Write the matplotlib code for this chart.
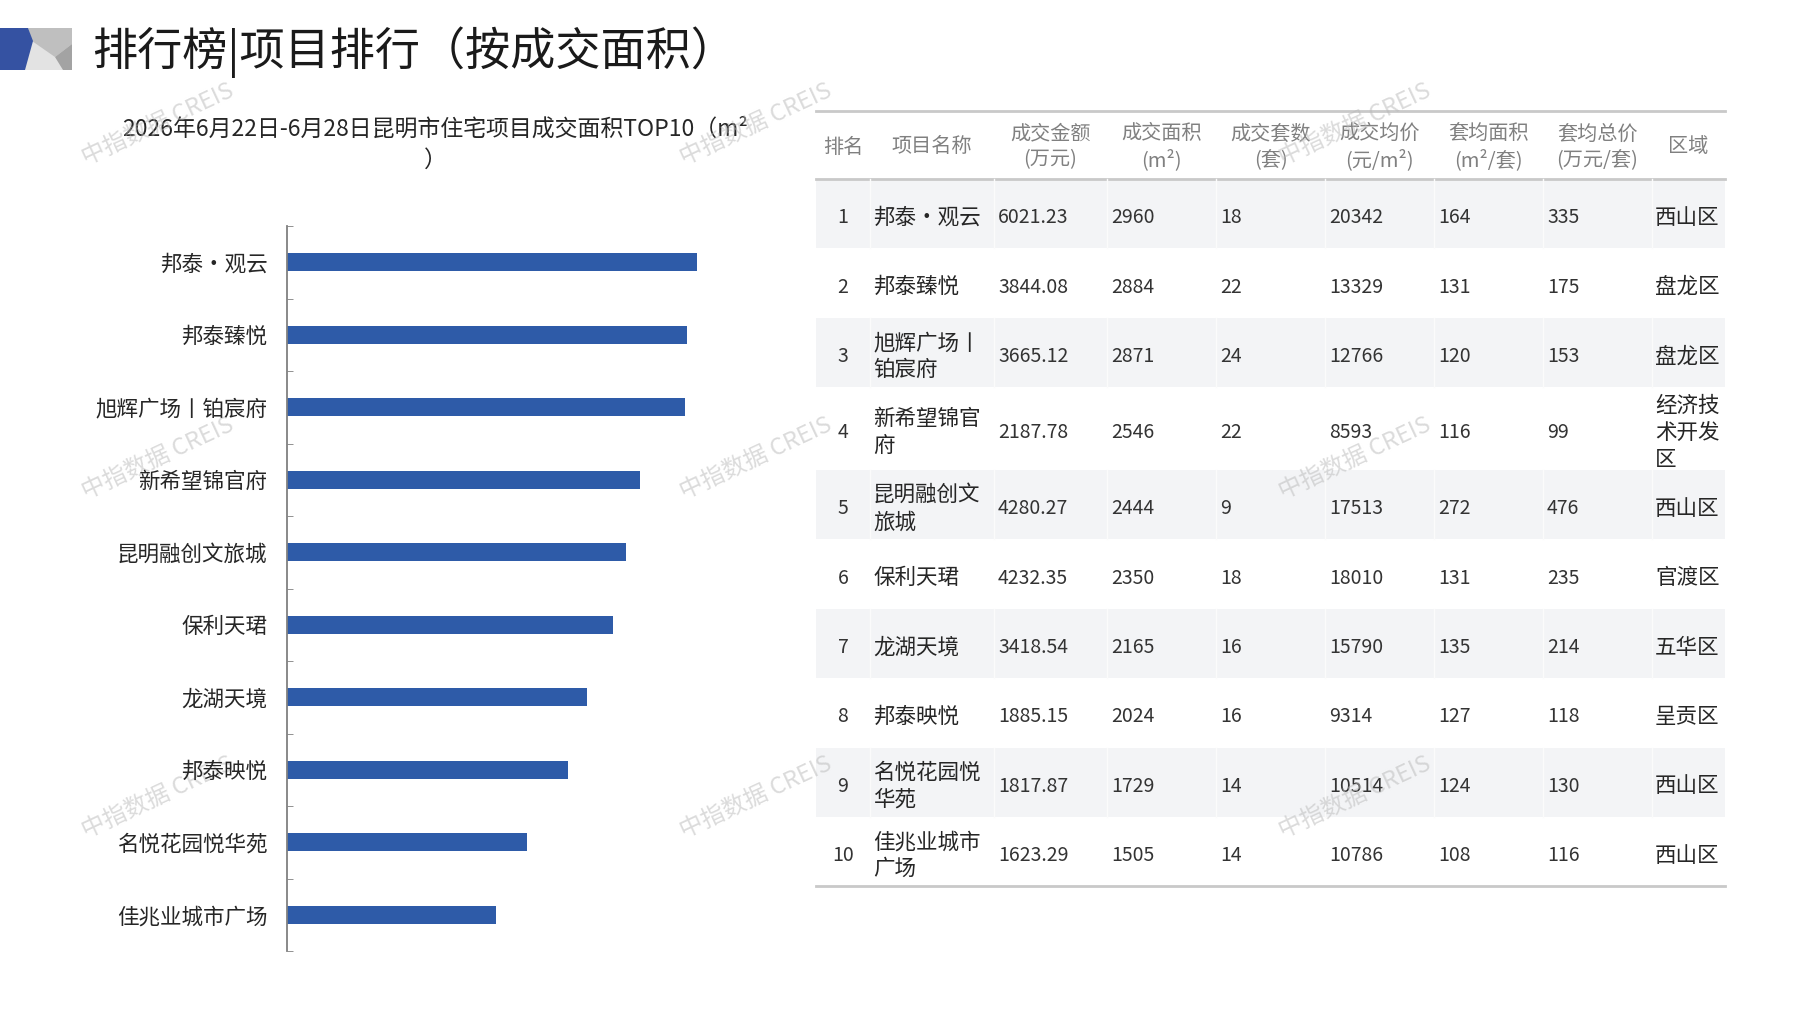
import matplotlib.pyplot as plt
import matplotlib.patches as patches
import numpy as np

plt.rcParams['font.family'] = ['Noto Sans CJK SC', 'DejaVu Sans']

# datos de la tabla / grafico
ranks = [1, 2, 3, 4, 5, 6, 7, 8, 9, 10]
names = ['邦泰•观云', '邦泰臻悦', '旭辉广场丨铂宸府', '新希望锦官府', '昆明融创文旅城',
         '保利天珺', '龙湖天境', '邦泰映悦', '名悦花园悦华苑', '佳兆业城市广场']
amounts = [6021.23, 3844.08, 3665.12, 2187.78, 4280.27, 4232.35, 3418.54, 1885.15, 1817.87, 1623.29]
areas = [2960, 2884, 2871, 2546, 2444, 2350, 2165, 2024, 1729, 1505]
units = [18, 22, 24, 22, 9, 18, 16, 16, 14, 14]
prices = [20342, 13329, 12766, 8593, 17513, 18010, 15790, 9314, 10514, 10786]
avg_area = [164, 131, 120, 116, 272, 131, 135, 127, 124, 108]
avg_total = [335, 175, 153, 99, 476, 235, 214, 118, 130, 116]
regions = ['西山区', '盘龙区', '盘龙区', '经济技术开发区', '西山区', '官渡区', '五华区', '呈贡区', '西山区', '西山区']
headers = ['排名', '项目名称', '成交金额\n(万元)', '成交面积\n(m²)', '成交套数\n(套)',
           '成交均价\n(元/m²)', '套均面积\n(m²/套)', '套均总价\n(万元/套)', '区域']

title = '排行榜|项目排行（按成交面积）'
subtitle = '2026年6月22日-6月28日昆明市住宅项目成交面积TOP10（m²\n）'
watermark = '中指数据 CREIS'

W, H = 1797, 1010
fig = plt.figure(figsize=(W / 100, H / 100), dpi=100)

# capa de fondo en pixeles
bg = fig.add_axes([0, 0, 1, 1])
bg.set_xlim(0, W)
bg.set_ylim(H, 0)
bg.axis('off')

# icono del titulo
bg.add_patch(patches.Rectangle((0, 28), 72, 42, facecolor='#e3e3e3', edgecolor='none'))
bg.add_patch(patches.Polygon([(28, 28), (72, 28), (72, 44), (55, 57), (32, 41)], facecolor='#bfbfbf', edgecolor='none'))
bg.add_patch(patches.Polygon([(72, 44), (55, 57), (63, 70), (72, 70)], facecolor='#a3a3a3', edgecolor='none'))
bg.add_patch(patches.Polygon([(0, 28), (28, 28), (33, 41), (25, 70), (0, 70)], facecolor='#3552a2', edgecolor='none'))

bg.text(92, 52, title, fontsize=32.5, color='#1a1a1a', va='center', ha='left')
bg.text(435, 145, subtitle, fontsize=16.5, color='#262626', ha='center', va='center',
        multialignment='center', linespacing=1.45)

# grafico de barras
ax = fig.add_axes([287 / W, 1 - 951 / H, 513 / W, 725 / H])
y = np.arange(len(names))
ax.barh(y, areas, height=0.25, color='#2E5BA8')
ax.set_xlim(0, 3700)
ax.set_ylim(len(names) - 0.5, -0.5)
ax.set_yticks(y, labels=names)
ax.set_yticks(np.arange(-0.5, len(names), 1), minor=True)
ax.tick_params(axis='y', which='major', length=0, pad=14, labelsize=15.5, labelcolor='#262626')
ax.tick_params(axis='y', which='minor', direction='in', length=4, color='#808080')
ax.set_xticks([])
for s in ['top', 'right', 'bottom']:
    ax.spines[s].set_visible(False)
ax.spines['left'].set_color('#808080')
ax.spines['left'].set_linewidth(1.3)
ax.set_facecolor('none')

# tabla
col_x = [816, 870, 994, 1107, 1216, 1325, 1434, 1543, 1652, 1725]
top, head_bot = 111, 179


def partir(texto, n):
    return '\n'.join(texto[i:i + n] for i in range(0, len(texto), n))


bg.plot([col_x[0], col_x[-1]], [top, top], color='#c9c9c9', lw=2)
for i, h in enumerate(headers):
    cx = (col_x[i] + col_x[i + 1]) / 2
    bg.text(cx, (top + head_bot) / 2 + 2, h, fontsize=14.5, color='#808080', ha='center', va='center',
            multialignment='center', linespacing=1.3)
bg.plot([col_x[0], col_x[-1]], [head_bot, head_bot], color='#c9c9c9', lw=2)

base_h = 69.4
yy = head_bot
for r in range(len(ranks)):
    nombre = partir(names[r], 5)
    region = partir(regions[r], 3)
    lineas = max(nombre.count('\n'), region.count('\n')) + 1
    h = max(base_h, lineas * 27.6)
    if r % 2 == 0:
        bg.add_patch(patches.Rectangle((col_x[0], yy), col_x[-1] - col_x[0], h,
                                       facecolor='#f3f4f6', edgecolor='none'))
        for cx in col_x[1:-1]:
            bg.plot([cx, cx], [yy, yy + h], color='#fbfbfb', lw=1)
    cy = yy + h / 2 + 4
    valores = [f'{amounts[r]:.2f}', str(areas[r]), str(units[r]), str(prices[r]),
               str(avg_area[r]), str(avg_total[r])]
    bg.text((col_x[0] + col_x[1]) / 2, cy, str(ranks[r]), fontsize=14, color='#333333', ha='center', va='center')
    bg.text(col_x[1] + 3, cy, nombre, fontsize=15.5, color='#262626', ha='left', va='center', linespacing=1.3)
    for j, v in enumerate(valores):
        bg.text(col_x[2 + j] + 4, cy, v, fontsize=14, color='#333333', ha='left', va='center')
    bg.text(col_x[8] + 3, cy, region, fontsize=15.5, color='#262626', ha='left', va='center', linespacing=1.3)
    yy += h
bg.plot([col_x[0], col_x[-1]], [yy, yy], color='#c9c9c9', lw=2)

# marcas de agua
for wx in [158, 756, 1355]:
    for wy in [124, 458, 797]:
        bg.text(wx, wy, watermark, fontsize=17, color='#b8b8b8', alpha=0.5, rotation=25,
                ha='center', va='center', zorder=10)

fig.savefig('out.png', dpi=100)
